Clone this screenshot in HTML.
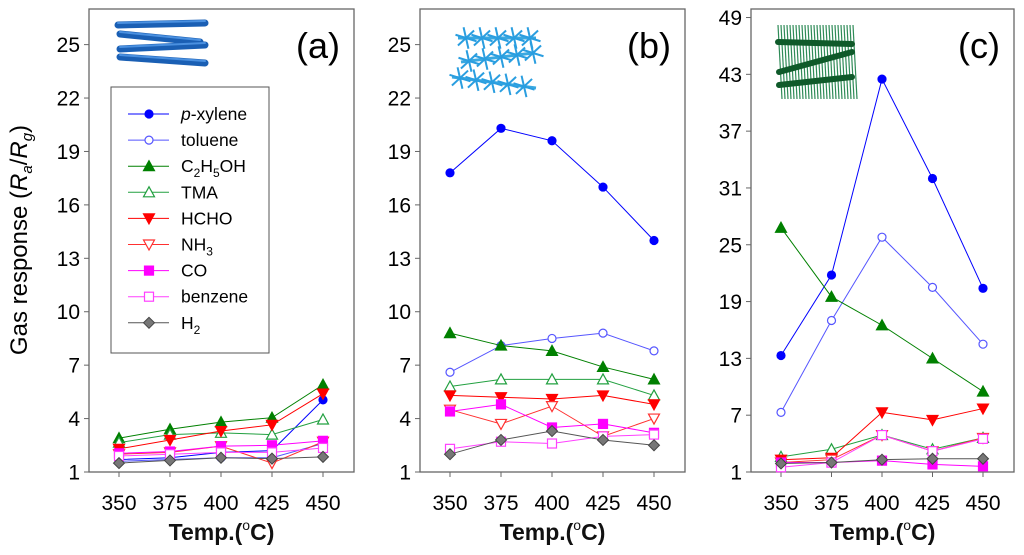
<!DOCTYPE html>
<html><head><meta charset="utf-8"><style>
body{margin:0;background:#fff;}
svg{display:block;font-family:"Liberation Sans",Arial,sans-serif;}
</style></head><body>
<svg id="chart" width="1024" height="555" viewBox="0 0 1024 555">
<text transform="translate(27,240) rotate(-90)" text-anchor="middle" font-size="24">Gas response (<tspan font-style="italic">R</tspan><tspan font-style="italic" font-size="15" dy="5">a</tspan><tspan dy="-5">/</tspan><tspan font-style="italic">R</tspan><tspan font-style="italic" font-size="15" dy="5">g</tspan><tspan dy="-5">)</tspan></text>
</svg>
<script>
const temps=[350,375,400,425,450];
const seriesNames=['p-xylene','toluene','C2H5OH','TMA','HCHO','NH3','CO','benzene','H2'];
const aXyl=[1.7,1.8,2.1,2.2,5.05], aTol=[1.6,1.7,1.8,1.8,2.6], aEth=[2.9,3.4,3.8,4.05,5.9], aTma=[2.65,3.1,3.2,3.1,3.95], aHcho=[2.3,2.8,3.3,3.65,5.4], aNh3=[2.0,2.1,2.45,1.5,2.7], aCo=[2.05,2.15,2.45,2.5,2.75], aBen=[1.9,2.0,2.1,2.1,2.35], aH2=[1.5,1.65,1.8,1.75,1.85];
const bXyl=[17.8,20.3,19.6,17.0,14.0], bTol=[6.6,8.1,8.5,8.8,7.8], bEth=[8.8,8.1,7.8,6.9,6.2], bTma=[5.8,6.2,6.2,6.2,5.3], bHcho=[5.3,5.2,5.1,5.3,4.8], bNh3=[4.5,3.7,4.7,3.0,4.0], bCo=[4.4,4.8,3.5,3.7,3.2], bBen=[2.3,2.7,2.6,3.0,3.1], bH2=[2.0,2.8,3.3,2.8,2.5];
const cXyl=[13.3,21.8,42.5,32.0,20.4], cTol=[7.3,17.0,25.8,20.5,14.5], cEth=[26.8,19.5,16.5,13.0,9.5], cTma=[2.6,3.4,4.9,3.4,4.6], cHcho=[2.3,2.5,7.3,6.5,7.7], cNh3=[2.0,2.3,4.9,3.2,4.6], cCo=[2.0,2.0,2.2,1.8,1.6], cBen=[1.5,2.0,4.9,3.2,4.5], cH2=[1.9,2.0,2.3,2.4,2.4];
const ticksAB=[1,4,7,10,13,16,19,22,25];
const ticksC=[1,7,13,19,25,31,37,43,49];

const NS='http://www.w3.org/2000/svg';
const svg=document.getElementById('chart');
function mk(tag,attrs,parent){const e=document.createElementNS(NS,tag);for(const k in attrs)e.setAttribute(k,attrs[k]);(parent||svg).appendChild(e);return e;}
const styles=[
 {c:'#0000ff',m:'circle',f:true},{c:'#5555ff',m:'circle',f:false},
 {c:'#008000',m:'tri',f:true},{c:'#22a040',m:'tri',f:false},
 {c:'#ff0000',m:'tridown',f:true},{c:'#ff3030',m:'tridown',f:false},
 {c:'#ff00ff',m:'square',f:true},{c:'#ff40ff',m:'square',f:false},
 {c:'#555555',m:'diamond',f:true}];
function marker(g,x,y,s,name){
  const fill=s.f?(s.m==='diamond'?'#777':s.c):'#fff';
  const st=s.m==='diamond'?'#444':s.c;let e;
  if(s.m==='circle')e=mk('circle',{cx:x,cy:y,r:4,fill:fill,stroke:st,'stroke-width':1.2},g);
  else if(s.m==='square')e=mk('rect',{x:x-4.5,y:y-4.5,width:9,height:9,fill:fill,stroke:st,'stroke-width':1.2},g);
  else if(s.m==='tri')e=mk('polygon',{points:`${x},${y-5.5} ${x-5.5},${y+4.5} ${x+5.5},${y+4.5}`,fill:fill,stroke:st,'stroke-width':1.2},g);
  else if(s.m==='tridown')e=mk('polygon',{points:`${x},${y+5.5} ${x-5.5},${y-4.5} ${x+5.5},${y-4.5}`,fill:fill,stroke:st,'stroke-width':1.2},g);
  else e=mk('polygon',{points:`${x},${y-5.5} ${x+5.5},${y} ${x},${y+5.5} ${x-5.5},${y}`,fill:fill,stroke:st,'stroke-width':1},g);
  
  
}
function panel(id,L,R,ymax,ticks,data,label){
  const T=9,B=472,ymin=1;
  const xs=t=>L+30+(t-350)/100*(R-L-61);
  const ys=v=>B-(v-ymin)/(ymax-ymin)*(B-T);
  const g=mk('g',{});
  
  
  const fr=mk('rect',{x:L,y:T,width:R-L,height:B-T,fill:'none',stroke:'#666','stroke-width':1.3},g);
  
  
  ticks.forEach(t=>{const y=ys(t);
    mk('line',{x1:L-5,x2:L,y1:y,y2:y,stroke:'#666'},g);
    const tx=mk('text',{x:L-9,y:y+7.5,'text-anchor':'end','font-size':21},g);tx.textContent=t;
    
    });
  temps.forEach(t=>{const x=xs(t);
    mk('line',{x1:x,x2:x,y1:B,y2:B+5,stroke:'#666'},g);
    const tx=mk('text',{x:x,y:510,'text-anchor':'middle','font-size':21},g);tx.textContent=t;
    
    });
  const xt=mk('text',{x:(L+R)/2,y:540,'text-anchor':'middle','font-size':23,'font-weight':'bold',fill:'#111'},g);
  xt.innerHTML='Temp.(<tspan font-size="14" font-weight="normal" dy="-10">o</tspan><tspan dy="10">C)</tspan>';
  
  
  const lb=mk('text',{x:R-14,y:58,'text-anchor':'end','font-size':36},g);lb.textContent=label;
  
  
  data.forEach((vals,i)=>{const s=styles[i];
    const pts=vals.map((v,j)=>xs(temps[j])+','+ys(v)).join(' ');
    const pl=mk('polyline',{points:pts,fill:'none',stroke:s.c,'stroke-width':1},g);
    
    
    vals.forEach((v,j)=>marker(g,xs(temps[j]),ys(v),s,'point-'+seriesNames[i]));});
  return g;
}
panel('a',89,354,27,ticksAB,[aXyl,aTol,aEth,aTma,aHcho,aNh3,aCo,aBen,aH2],'(a)');
panel('b',420,685,27,ticksAB,[bXyl,bTol,bEth,bTma,bHcho,bNh3,bCo,bBen,bH2],'(b)');
panel('c',751,1014,49.9,ticksC,[cXyl,cTol,cEth,cTma,cHcho,cNh3,cCo,cBen,cH2],'(c)');

// legend
const lg=mk('g',{});


mk('rect',{x:111,y:87,width:158,height:266,fill:'#fff',stroke:'#555','stroke-width':1},lg);
const labels=['<tspan font-style="italic">p</tspan>-xylene','toluene','C<tspan font-size="12" dy="5">2</tspan><tspan dy="-5">H</tspan><tspan font-size="12" dy="5">5</tspan><tspan dy="-5">OH</tspan>','TMA','HCHO','NH<tspan font-size="12" dy="5">3</tspan>','CO','benzene','H<tspan font-size="12" dy="5">2</tspan>'];
labels.forEach((t,i)=>{const y=114+i*26.1;const s=styles[i];
  const e=mk('g',{},lg);
  
  
  mk('line',{x1:128,x2:169,y1:y,y2:y,stroke:s.c,'stroke-width':1},e);
  marker(e,149,y,s,'legend-marker');
  const tx=mk('text',{x:181,y:y+6,'font-size':17.5},e);tx.innerHTML=t;});

// icons
function icon(){
  const a=mk('g',{});
  
  
  [[118,25,205,23],[120,34,200,42],[120,49,205,45],[120,57,205,63]].forEach(p=>{
    mk('line',{x1:p[0],y1:p[1],x2:p[2],y2:p[3],stroke:'#1a5fb4','stroke-width':7,'stroke-linecap':'round'},a);
    mk('line',{x1:p[0],y1:p[1]-2,x2:p[2],y2:p[3]-2,stroke:'#4a90e0','stroke-width':2,'stroke-linecap':'round'},a);});
  const b=mk('g',{});
  
  
  [[458,38,536,38],[461,62,533,53],[452,77,536,88]].forEach(p=>{
    mk('line',{x1:p[0],y1:p[1],x2:p[2],y2:p[3],stroke:'#39a8e0','stroke-width':3},b);
    for(let k=0;k<5;k++){const cx=p[0]+8+k*16,cy=p[1]+(p[3]-p[1])*(k*16+8)/(p[2]-p[0]);
      for(let a2=0;a2<6;a2++){const an=a2*Math.PI/3+0.3;mk('line',{x1:cx,y1:cy,x2:cx+11*Math.cos(an),y2:cy+11*Math.sin(an),stroke:'#2a9ee0','stroke-width':2},b);}}});
  const c=mk('g',{});
  
  
  for(let k=0;k<26;k++){const x=778+k*3;mk('line',{x1:x,y1:25,x2:x+4,y2:99,stroke:'#2e8b57','stroke-width':1.2},c);}
  [[778,42,852,44],[779,72,852,52],[779,85,852,77]].forEach(p=>mk('line',{x1:p[0],y1:p[1],x2:p[2],y2:p[3],stroke:'#0f5a2a','stroke-width':6,'stroke-linecap':'round'},c));
}
icon();
</script>
</body></html>
